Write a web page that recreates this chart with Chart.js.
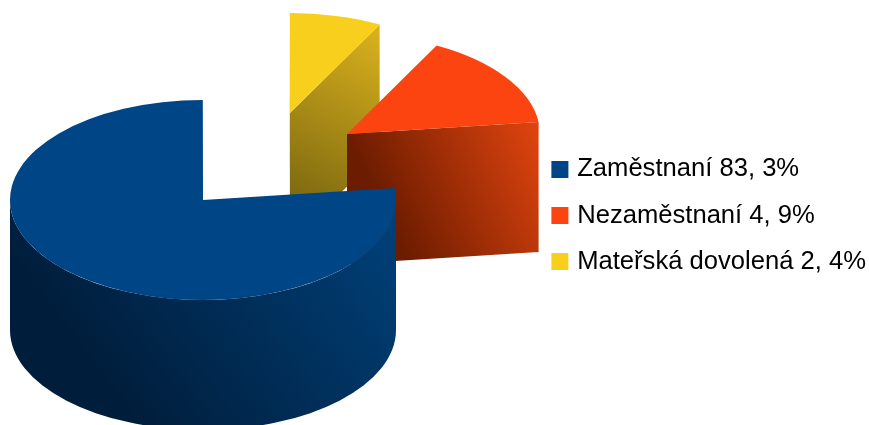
<!DOCTYPE html>
<html>
<head>
<meta charset="utf-8">
<style>
  html, body { margin: 0; padding: 0; background: #fff; overflow: hidden; }
  canvas { display: block; }
</style>
<script src="https://cdn.jsdelivr.net/npm/chart.js@4"></script>
</head>
<body>
<canvas id="pieChart" width="869" height="425"></canvas>
<script>
// Slices clockwise from the blue one. The sizes are read off the drawn wedges,
// which do not follow the percentages printed in the legend.
const categories = ['Zaměstnaní 83, 3%', 'Mateřská dovolená 2, 4%', 'Nezaměstnaní 4, 9%'];
const values = [76.9, 7.7, 15.4];
const colors = ['#004586', '#f9cf1e', '#fc4410'];
const legendRank = [0, 2, 1];

// 3D look
const squash = 0.518;
const wallHeight = 130;
const pieCenterX = 203;
const pieCenterY = 200;
const paintOrder = [1, 2, 0];
const sliceShift = [[0, 0], [87, -87], [144, -66]];
const wallShades = [
  { from: [0.25, 0.85], to: [1, 0.2], stops: ['#001e3c', '#00447f'] },
  { from: [0, 0.55], to: [0.47, 0.04], stops: ['#7f6a10', '#dcb31e'] },
  { from: [0, 0.31], to: [0.82, 0.076], stops: ['#6c1c00', '#e0440f'] }
];

// draws the walls, then lets each arc draw its own top face in a flattened context
const pie3d = {
  id: 'pie3d',
  beforeDatasetsDraw(chart) {
    const ctx = chart.ctx;
    const arcs = chart.getDatasetMeta(0).data;
    paintOrder.forEach(i => {
      const a = arcs[i];
      const x = pieCenterX + sliceShift[i][0];
      const y = pieCenterY + sliceShift[i][1];
      const rx = a.outerRadius;
      const ry = rx * squash;
      const pt = ang => [x + rx * Math.cos(ang), y + ry * Math.sin(ang)];

      // gradient box around the slice
      const left = i === 0 ? x - rx : x;
      const right = x + rx;
      const top = y - ry;
      const bottom = y + ry + wallHeight;
      const shade = wallShades[i];
      const grad = ctx.createLinearGradient(
        left + (right - left) * shade.from[0], top + (bottom - top) * shade.from[1],
        left + (right - left) * shade.to[0], top + (bottom - top) * shade.to[1]);
      grad.addColorStop(0, shade.stops[0]);
      grad.addColorStop(1, shade.stops[1]);
      ctx.fillStyle = grad;

      // cut faces turned towards the viewer
      const cut = ang => {
        const p = pt(ang);
        ctx.beginPath();
        ctx.moveTo(x, y);
        ctx.lineTo(p[0], p[1]);
        ctx.lineTo(p[0], p[1] + wallHeight);
        ctx.lineTo(x, y + wallHeight);
        ctx.closePath();
        ctx.fill();
      };
      if (Math.cos(a.startAngle) < -1e-6) cut(a.startAngle);
      if (Math.cos(a.endAngle) > 1e-6) cut(a.endAngle);

      // outer wall, only the front half
      const from = Math.max(a.startAngle, 0);
      const to = Math.min(a.endAngle, Math.PI);
      if (to > from) {
        ctx.beginPath();
        ctx.ellipse(x, y, rx, ry, 0, from, to);
        ctx.ellipse(x, y + wallHeight, rx, ry, 0, to, from, true);
        ctx.closePath();
        ctx.fill();
      }

      ctx.save();
      ctx.translate(x, y);
      ctx.scale(1, squash);
      ctx.translate(-a.x, -a.y);
      a.draw(ctx);
      ctx.restore();
    });
    return false;
  }
};

new Chart(document.getElementById('pieChart'), {
  type: 'pie',
  data: {
    labels: categories,
    datasets: [{ data: values, backgroundColor: colors, borderWidth: 0 }]
  },
  options: {
    responsive: false,
    animation: false,
    rotation: 83.1,
    radius: 193,
    layout: { padding: { top: 6, right: -7 } },
    plugins: {
      tooltip: { enabled: false },
      legend: {
        position: 'right',
        labels: {
          color: '#000',
          font: { family: 'Liberation Sans', size: 25.6 },
          boxWidth: 9,
          boxHeight: 9,
          padding: 20.5,
          sort: (a, b) => legendRank[a.index] - legendRank[b.index],
          generateLabels(chart) {
            // thick outline in the slice colour makes the square bigger, text stays close
            return Chart.overrides.pie.plugins.legend.labels.generateLabels(chart).map((item, i) => {
              item.strokeStyle = colors[i];
              item.lineWidth = 8;
              return item;
            });
          }
        }
      }
    }
  },
  plugins: [pie3d]
});
</script>
</body>
</html>
